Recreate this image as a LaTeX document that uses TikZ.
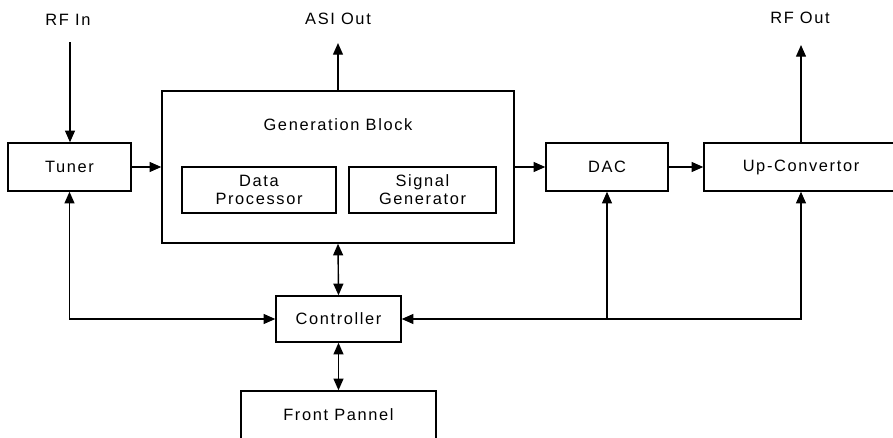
\documentclass[tikz,border=0pt]{standalone}
\usepackage{fontspec}
\setmainfont{Liberation Sans}[LetterSpace=10]
\usepackage{tikz}
\usetikzlibrary{arrows.meta, calc}

\begin{document}
\begin{tikzpicture}[x=0.03cm, y=-0.03cm, >={Triangle[length=10pt, width=8.5pt]},
    line width=1.2pt,
    font=\fontsize{14}{15.5}\selectfont,
    blk/.style={draw, rectangle, minimum height=1.44cm, inner sep=0pt, align=center},
    sub/.style={draw, rectangle, minimum height=1.38cm, inner sep=0pt, align=center}]
  \clip (0,0) rectangle (893,437);
  % Blocks
  \node[blk, minimum width=3.69cm] (tuner) at (69.5,167) {Tuner};
  \node[draw, rectangle, minimum width=10.56cm, minimum height=4.56cm] (gen) at (338,167) {};
  \node (genlbl) at (338,125) {Generation Block};
  \node[sub, minimum width=4.62cm] (dproc) at (259,190) {Data\\Processor};
  \node[sub, minimum width=4.41cm] (sgen) at (422.5,190) {Signal\\Generator};
  \node[blk, minimum width=3.66cm] (dac) at (607,167) {DAC};
  \node[blk, minimum width=5.82cm] (upconv) at (801,167) {Up-Convertor};
  \node[blk, minimum width=3.75cm, minimum height=1.38cm] (ctrl) at (338.5,319) {Controller};
  \node[blk, minimum width=5.85cm] (front) at (338.5,415) {Front Pannel};
  % Ports
  \node (rfin) at (68,20) {RF In};
  \node (asiout) at (338,19) {ASI Out};
  \node (rfout) at (800,18) {RF Out};
  \coordinate (rfinend) at (70,42);
  \coordinate (asiend) at (338,43);
  \coordinate (rfoutend) at (801,45);
  % Straight arrows
  \draw[->] (rfinend) -- (rfinend |- tuner.north);
  \draw[->] (tuner.east) -- (gen.west);
  \draw[->] (gen.north) -- (asiend);
  \draw[->] (gen.east) -- (dac.west);
  \draw[->] (dac.east) -- (upconv.west);
  \draw[->] (upconv.north) -- (rfoutend);
  % Control lines
  \draw[<->] (gen.south) -- (ctrl.north);
  \draw[<->] (ctrl.south) -- (front.north);
  \draw[<->] (tuner.south) |- (ctrl.west);
  \draw[<->] (upconv.south) |- (ctrl.east);
  \draw[->] (dac.south |- ctrl.east) -- (dac.south);
\end{tikzpicture}
\end{document}
